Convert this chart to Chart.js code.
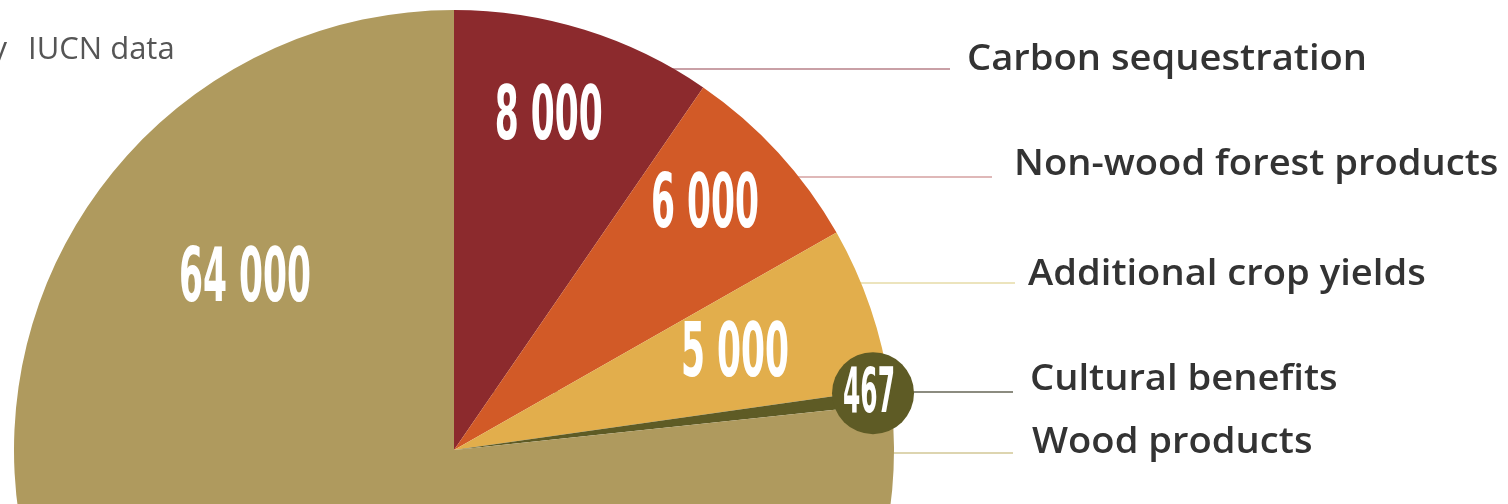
<!DOCTYPE html>
<html lang="en">
<head>
  <meta charset="UTF-8" />
  <title>Forest ecosystem values</title>
  <script src="https://cdn.jsdelivr.net/npm/chart.js"></script>
  <style>
    html, body {
      margin: 0;
      padding: 0;
      background: #fff;
      overflow: hidden;
      width: 1508px;
      height: 504px;
    }
    #pie {
      position: absolute;
      left: 0;
      top: 0;
    }
  </style>
</head>
<body>

<canvas id="pie" width="1508" height="900"></canvas>

<script>
// slices go clockwise from 12 o'clock
const categories = ["Carbon sequestration", "Non-wood forest products", "Additional crop yields", "Cultural benefits", "Wood products"];
const values = [8000, 6000, 5000, 467, 64000];
const colors = ["#8c2a2d", "#d25a27", "#e2ae4c", "#5e5b25", "#af9a5e"];
const lineColors = ["#c9a0a6", "#dfb8b8", "#ece4bd", "#8c8c80", "#ddd5b0"];

// where the callouts sit (label x, baseline y, end of leader line)
const callouts = [
  { x: 967, y: 70, lineY: 69, lineEnd: 950 },
  { x: 1014, y: 175, lineY: 177, lineEnd: 992 },
  { x: 1028, y: 285, lineY: 283, lineEnd: 1015 },
  { x: 1030, y: 390, lineY: 392, lineEnd: 1013 },
  { x: 1032, y: 453, lineY: 453, lineEnd: 1013 }
];

// value labels: angle in degrees clockwise from top, distance as part of radius
const valueSpots = [
  { a: 15.9, f: 0.787 },
  { a: 45.7, f: 0.797 },
  { a: 71.1, f: 0.675 },
  { a: 82.2, f: 0.952, badge: true },
  { a: 309.3, f: 0.614 }
];

const fmt = v => String(v).replace(/\B(?=(\d{3})+(?!\d))/g, " ");

const numFont = '"Liberation Sans Narrow", "Arial Narrow", "DejaVu Sans Condensed", sans-serif';

const calloutPlugin = {
  id: "callouts",
  beforeDatasetsDraw(chart) {
    const c = chart.ctx;
    const arc = chart.getDatasetMeta(0).data[0];
    c.save();
    c.lineWidth = 2;
    callouts.forEach((o, i) => {
      c.strokeStyle = lineColors[i];
      c.beginPath();
      c.moveTo(arc.x, o.lineY);
      c.lineTo(o.lineEnd, o.lineY);
      c.stroke();
    });
    c.restore();
  },
  afterDatasetsDraw(chart) {
    const c = chart.ctx;
    const meta = chart.getDatasetMeta(0);
    const cx = meta.data[0].x;
    const cy = meta.data[0].y;
    const r = meta.data[0].outerRadius;

    c.save();
    // callout texts, a touch wider than the installed face
    c.fillStyle = "#333";
    c.font = '600 36px "Open Sans", "Noto Sans", sans-serif';
    c.textAlign = "left";
    c.textBaseline = "alphabetic";
    callouts.forEach((o, i) => {
      c.save();
      c.translate(o.x, o.y);
      c.scale(1.06, 1);
      c.fillText(categories[i], 0, 0);
      c.restore();
    });

    // source fragment top left
    c.fillStyle = "#555";
    c.font = '400 31px "Open Sans", "Noto Sans", sans-serif';
    c.textAlign = "right";
    c.fillText("by", 7, 59);
    c.textAlign = "left";
    c.fillText("IUCN data", 28, 59);

    // value labels in a squeezed bold face
    c.textAlign = "center";
    c.textBaseline = "middle";
    valueSpots.forEach((s, i) => {
      const ang = s.a * Math.PI / 180;
      const x = cx + Math.sin(ang) * r * s.f;
      const y = cy - Math.cos(ang) * r * s.f;
      let size = 74, target = 108, ref = "8 000";
      if (s.badge) {
        c.fillStyle = colors[i];
        c.beginPath();
        c.arc(x + 4, y, 41, 0, Math.PI * 2);
        c.fill();
        size = 62; target = 52; ref = "467";
      }
      c.font = "bold " + size + "px " + numFont;
      const sx = target / c.measureText(ref).width;
      c.save();
      c.translate(x, y + size * 0.04);
      c.scale(sx, 1);
      c.fillStyle = "#fff";
      c.fillText(fmt(values[i]), 0, 0);
      c.restore();
    });
    c.restore();
  }
};

new Chart(document.getElementById("pie"), {
  type: "pie",
  data: {
    labels: categories,
    datasets: [{
      data: values,
      backgroundColor: colors,
      borderWidth: 0
    }]
  },
  options: {
    responsive: false,
    animation: false,
    events: [],
    layout: {
      padding: { left: 14, top: 10, right: 614, bottom: 10 }
    },
    plugins: {
      legend: { display: false },
      tooltip: { enabled: false }
    }
  },
  plugins: [calloutPlugin]
});
</script>

</body>
</html>
